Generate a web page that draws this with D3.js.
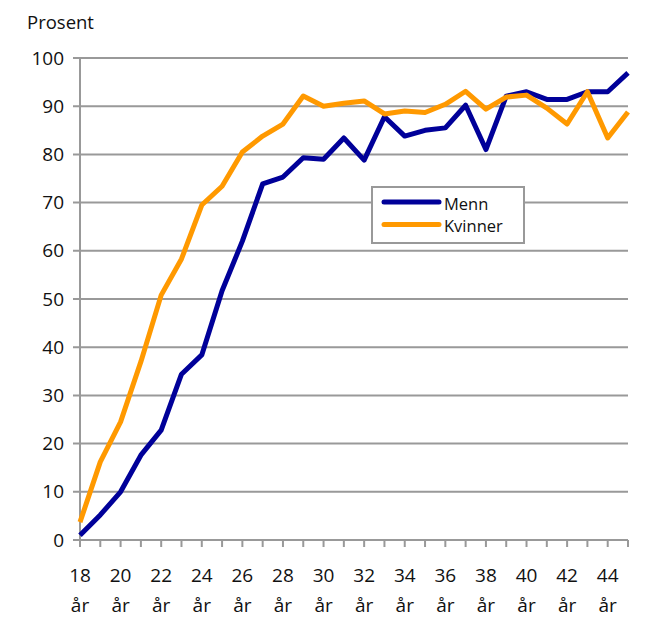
<!DOCTYPE html>
<meta charset="utf-8">
<style>
body { margin: 0; background: #fff; }
text { font-family: "Open Sans", sans-serif; fill: #111; }
.grid line { stroke: #999; stroke-width: 2px; }
.line { fill: none; stroke-width: 5px; stroke-linejoin: round; }
</style>
<body>
<script src="https://d3js.org/d3.v7.min.js"></script>
<script>

// ages 18..45
var ages = d3.range(18, 46);
var menn = [1, 5.2, 10, 17.6, 22.8, 34.4, 38.4, 51.7, 62, 73.9, 75.3, 79.3, 79, 83.4, 78.8,
            87.8, 83.8, 85, 85.5, 90.2, 81, 92.1, 93, 91.4, 91.4, 93, 93, 96.9];
var kvinner = [3.7, 16.2, 24.5, 37, 50.8, 58.3, 69.5, 73.4, 80.5, 83.8, 86.3, 92.1, 90, 90.6, 91.1,
               88.4, 89, 88.7, 90.4, 93.1, 89.4, 91.9, 92.3, 89.6, 86.3, 93, 83.4, 88.8];
var yTicks = d3.range(0, 101, 10);
var xLabels = d3.range(18, 45, 2);

var margin = {top: 58, right: 44, bottom: 84, left: 80},
    width = 672 - margin.left - margin.right,
    height = 624 - margin.top - margin.bottom;

var x = d3.scaleLinear().domain([18, 45]).range([0, width]);
var y = d3.scaleLinear().domain([0, 100]).range([height, 0]);

var svg = d3.select("body").append("svg")
    .attr("width", 672)
    .attr("height", 624);

svg.append("text")
    .attr("x", 27).attr("y", 29)
    .style("font-size", "18.5px")
    .text("Prosent");

var g = svg.append("g")
    .attr("transform", "translate(" + margin.left + "," + margin.top + ")");

// horizontal gridlines + y ticks
var grid = g.append("g").attr("class", "grid");
grid.selectAll("line.h").data(yTicks).enter().append("line")
    .attr("class", "h")
    .attr("x1", -7).attr("x2", width)
    .attr("y1", function(d) { return y(d); })
    .attr("y2", function(d) { return y(d); });

// y axis line
grid.append("line")
    .attr("x1", 0).attr("x2", 0)
    .attr("y1", 0).attr("y2", height);

// x ticks every year
grid.selectAll("line.xt").data(ages).enter().append("line")
    .attr("class", "xt")
    .attr("x1", function(d) { return x(d); })
    .attr("x2", function(d) { return x(d); })
    .attr("y1", height).attr("y2", height + 7);

g.selectAll("text.yl").data(yTicks).enter().append("text")
    .attr("class", "yl")
    .attr("x", -16)
    .attr("y", function(d) { return y(d); })
    .attr("dy", "0.35em")
    .attr("text-anchor", "end")
    .style("font-size", "19px")
    .text(function(d) { return d; });

var xl = g.selectAll("g.xl").data(xLabels).enter().append("g")
    .attr("class", "xl")
    .attr("transform", function(d) { return "translate(" + x(d) + "," + height + ")"; });
xl.append("text")
    .attr("y", 42).attr("text-anchor", "middle")
    .style("font-size", "19px")
    .text(function(d) { return d; });
xl.append("text")
    .attr("y", 72).attr("text-anchor", "middle")
    .style("font-size", "19px")
    .text("år");

var line = d3.line()
    .x(function(d, i) { return x(ages[i]); })
    .y(function(d) { return y(d); });

g.append("path").datum(menn)
    .attr("class", "line")
    .attr("stroke", "#000099")
    .attr("d", line);

g.append("path").datum(kvinner)
    .attr("class", "line")
    .attr("stroke", "#ff9900")
    .attr("d", line);

// legend
var leg = svg.append("g").attr("transform", "translate(372,187)");
leg.append("rect")
    .attr("width", 152).attr("height", 56)
    .attr("fill", "#fff")
    .attr("stroke", "#999").attr("stroke-width", 2);
var series = [["Menn", "#000099"], ["Kvinner", "#ff9900"]];
series.forEach(function(s, i) {
  leg.append("line")
      .attr("x1", 12).attr("x2", 67)
      .attr("y1", 15 + i * 22.5).attr("y2", 15 + i * 22.5)
      .attr("stroke", s[1]).attr("stroke-width", 5)
      .attr("stroke-linecap", "round");
  leg.append("text")
      .attr("x", 72).attr("y", 17 + i * 22.5)
      .attr("dy", "0.35em")
      .style("font-size", "16.5px")
      .text(s[0]);
});

</script>
</body>
